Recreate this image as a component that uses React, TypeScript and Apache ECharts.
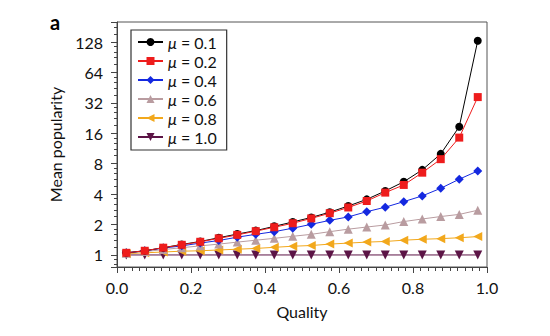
import React, { useEffect, useRef } from "react";
import * as echarts from "echarts";

const quality = [0.025, 0.075, 0.125, 0.175, 0.225, 0.275, 0.325, 0.375, 0.425, 0.475, 0.525, 0.575, 0.625, 0.675, 0.725, 0.775, 0.825, 0.875, 0.925, 0.975];

const mu01 = [1.05, 1.10, 1.18, 1.27, 1.36, 1.48, 1.61, 1.74, 1.92, 2.12, 2.35, 2.65, 3.05, 3.55, 4.3, 5.3, 6.95, 10.0, 18.6, 132];
const mu02 = [1.05, 1.10, 1.18, 1.26, 1.35, 1.46, 1.58, 1.72, 1.88, 2.06, 2.30, 2.59, 2.95, 3.42, 4.14, 4.93, 6.52, 8.87, 14.5, 36.5];
const mu04 = [1.05, 1.10, 1.17, 1.23, 1.31, 1.39, 1.50, 1.60, 1.70, 1.84, 2.01, 2.20, 2.38, 2.68, 2.97, 3.37, 3.84, 4.57, 5.62, 6.78];
const mu06 = [1.04, 1.08, 1.13, 1.18, 1.23, 1.28, 1.34, 1.40, 1.46, 1.53, 1.60, 1.70, 1.80, 1.89, 1.98, 2.14, 2.27, 2.40, 2.52, 2.77];
const mu08 = [1.03, 1.05, 1.07, 1.09, 1.10, 1.12, 1.14, 1.16, 1.19, 1.22, 1.24, 1.28, 1.31, 1.34, 1.36, 1.40, 1.43, 1.45, 1.48, 1.52];
const mu10 = [1, 1, 1, 1, 1, 1, 1, 1, 1, 1, 1, 1, 1, 1, 1, 1, 1, 1, 1, 1];

const seriesNames = ["μ = 0.1", "μ = 0.2", "μ = 0.4", "μ = 0.6", "μ = 0.8", "μ = 1.0"];
const seriesValues = [mu01, mu02, mu04, mu06, mu08, mu10];
const seriesColors = ["#000000", "#ee1c1c", "#1428e0", "#b99ca0", "#f2a81c", "#5c1446"];
const seriesSymbols = ["circle", "rect", "diamond", "triangle", "triangle", "triangle"];
const seriesRotate = [0, 0, 0, 0, 90, 180];
const seriesSizes = [8, 8, 9, 9, 9, 9];
const seriesZ = [6, 7, 5, 4, 3, 2];

const FONT = "Lato, 'Noto Sans', sans-serif";

export default function App() {
  const ref = useRef<HTMLDivElement>(null);
  useEffect(() => {
    if (!ref.current) return;
    const chart = echarts.init(ref.current, undefined, { renderer: "svg" });
    const series = seriesNames.map((name, i) => ({
      name,
      type: "line",
      data: quality.map((q, j) => [q, seriesValues[i][j]]),
      symbol: seriesSymbols[i],
      symbolSize: seriesSizes[i],
      symbolRotate: seriesRotate[i],
      z: seriesZ[i],
      itemStyle: { color: seriesColors[i] },
      lineStyle: { color: seriesColors[i], width: 1 },
    }));
    chart.setOption({
      animation: false,
      backgroundColor: "#ffffff",
      textStyle: { fontFamily: FONT },
      grid: {
        left: 117,
        right: 63,
        top: 22,
        bottom: 69,
        show: true,
        borderColor: "#555",
        borderWidth: 1,
        backgroundColor: "transparent",
      },
      legend: {
        orient: "vertical",
        left: 131,
        top: 30,
        data: seriesNames,
        itemWidth: 25,
        itemHeight: 10,
        itemGap: 3,
        padding: [4, 10, 5, 6],
        borderColor: "#333",
        borderWidth: 1.2,
        backgroundColor: "#fff",
        formatter: (name: string) => "{i|μ}" + name.slice(1),
        textStyle: {
          fontFamily: FONT,
          fontSize: 16,
          color: "#111",
          lineHeight: 16,
          rich: {
            i: { fontFamily: FONT, fontSize: 16, fontStyle: "italic", color: "#111" },
          },
        },
      },
      xAxis: {
        type: "value",
        min: 0,
        max: 1,
        interval: 0.2,
        name: "Quality",
        nameLocation: "middle",
        nameGap: 36,
        nameTextStyle: { fontFamily: FONT, fontSize: 16, color: "#111" },
        axisLine: { show: true, lineStyle: { color: "#444", width: 1 } },
        axisTick: { show: true, inside: false, length: 6, lineStyle: { color: "#444" } },
        minorTick: { show: true, splitNumber: 10, length: 4, lineStyle: { color: "#444" } },
        splitLine: { show: false },
        axisLabel: {
          fontFamily: FONT,
          fontSize: 16,
          color: "#111",
          margin: 12,
          formatter: (v: number) => v.toFixed(1),
        },
      },
      yAxis: {
        type: "log",
        logBase: 2,
        min: 0.76,
        max: 202,
        name: "Mean popularity",
        nameLocation: "middle",
        nameGap: 54,
        nameTextStyle: { fontFamily: FONT, fontSize: 16, color: "#111" },
        axisLine: { show: true, lineStyle: { color: "#444", width: 1 } },
        axisTick: { show: true, inside: false, length: 6, lineStyle: { color: "#444" } },
        minorTick: { show: true, splitNumber: 5, length: 3, lineStyle: { color: "#444" } },
        splitLine: { show: false },
        axisLabel: {
          fontFamily: FONT,
          fontSize: 16,
          color: "#111",
          margin: 14,
          formatter: (v: number) => {
            const e = Math.log2(v);
            return Math.abs(e - Math.round(e)) < 1e-6 ? String(Math.round(v)) : "";
          },
        },
      },
      graphic: [
        {
          type: "text",
          left: 50,
          top: 12,
          style: { text: "a", fontFamily: FONT, fontSize: 20, fontWeight: "bold", fill: "#000" },
        },
      ],
      series,
    });
    return () => chart.dispose();
  }, []);
  return <div ref={ref} style={{ width: 550, height: 336, margin: -8 }} />;
}
